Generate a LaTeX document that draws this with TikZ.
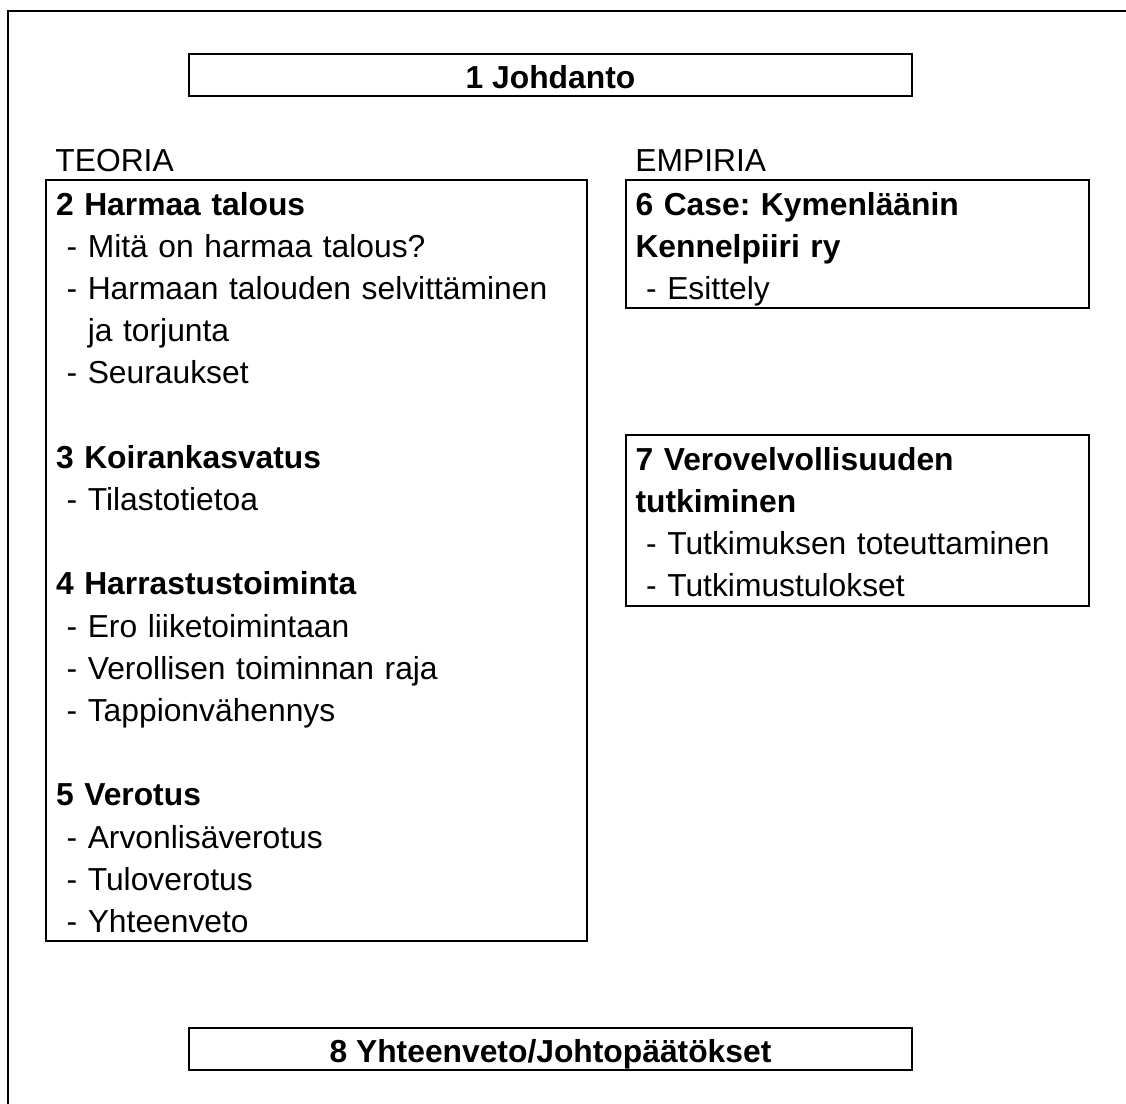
\documentclass[tikz,border=0pt]{standalone}
\usepackage{fontspec}
\setmainfont{Liberation Sans}
\usepackage{tikz}
\frenchspacing
\newcommand{\ylarivi}{\rule{0pt}{17.5pt}}
\newcommand{\alarivi}{\rule[-4.5pt]{0pt}{4.5pt}}

\begin{document}
\begin{tikzpicture}[x=0.5pt, y=-0.5pt,
		      every node/.style={font=\fontsize{15.9}{21.1}\selectfont, inner sep=0pt},
		      frame/.style={draw, line width=1pt},
		      titlebox/.style={frame, anchor=north, minimum width=361.5pt, text height=17pt, text depth=4pt, font=\fontsize{15.9}{21.1}\selectfont\bfseries},
		      textbox/.style={frame, anchor=north west, align=left, inner xsep=5pt, inner ysep=0pt}]
	      \useasboundingbox (0,0) rectangle (1126,1104);
	      \draw[frame] (1126,11) -- (8,11) -- (8,1104);
	      \node[titlebox] (johdanto) at (550.5,53) {1 Johdanto};
	      \node[anchor=base west] (teoria) at (55,171) {TEORIA};
	      \node[anchor=base west] (empiria) at (635,171) {EMPIRIA};
	      \node[textbox, text width=260.5pt] (harmaa) at (45,179) {%
		      \ylarivi\textbf{2 Harmaa talous}\\
		      \ - Mitä on harmaa talous?\\
		      \ - Harmaan talouden selvittäminen\\
		      \ \ \ ja torjunta\\
		      \ - Seuraukset\\
		      \strut\\
		      \textbf{3 Koirankasvatus}\\
		      \ - Tilastotietoa\\
		      \strut\\
		      \textbf{4 Harrastustoiminta}\\
		      \ - Ero liiketoimintaan\\
		      \ - Verollisen toiminnan raja\\
		      \ - Tappionvähennys\\
		      \strut\\
		      \textbf{5 Verotus}\\
		      \ - Arvonlisäverotus\\
		      \ - Tuloverotus\\
		      \ - Yhteenveto\alarivi};
	      \node[textbox, text width=222pt, inner xsep=4.75pt] (kennel) at (625,179) {%
		      \ylarivi\textbf{6 Case: Kymenläänin}\\
		      \textbf{Kennelpiiri ry}\\
		      \ - Esittely\alarivi};
	      \node[textbox, text width=222pt, inner xsep=4.75pt] (tutkimus) at (625,434) {%
		      \ylarivi\textbf{7 Verovelvollisuuden}\\
		      \textbf{tutkiminen}\\
		      \ - Tutkimuksen toteuttaminen\\
		      \ - Tutkimustulokset\alarivi};
	      \node[titlebox] (yhteenveto) at (550.5,1027) {8 Yhteenveto/Johtopäätökset};
\end{tikzpicture}
\end{document}
